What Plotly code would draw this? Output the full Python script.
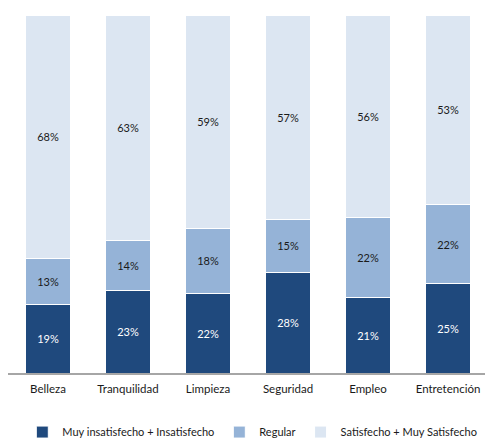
import plotly.graph_objects as go

categories = ["Belleza", "Tranquilidad", "Limpieza", "Seguridad", "Empleo", "Entretención"]
insatisfecho = [19, 23, 22, 28, 21, 25]
regular = [13, 14, 18, 15, 22, 22]
satisfecho = [68, 63, 59, 57, 56, 53]

series = [
    ("Muy insatisfecho + Insatisfecho", insatisfecho, "#1F497D", "white"),
    ("Regular", regular, "#95B3D7", "#1a1a1a"),
    ("Satisfecho + Muy Satisfecho", satisfecho, "#DCE6F2", "#1a1a1a"),
]

fig = go.Figure()
for name, vals, color, tcolor in series:
    fig.add_trace(go.Bar(
        name=name, x=categories, y=vals,
        text=[f"{v}%" for v in vals],
        textposition="inside", insidetextanchor="middle", textangle=0,
        textfont=dict(color=tcolor, size=11, family="Lato"),
        marker=dict(color=color, line=dict(color="white", width=1)),
    ))

fig.update_layout(
    width=485, height=447,
    barmode="stack", barnorm="percent", bargap=0.43,
    margin=dict(l=8, r=0, t=15, b=67),
    plot_bgcolor="white", paper_bgcolor="white",
    font=dict(family="Lato", size=11.5, color="#1a1a1a"),
    showlegend=True,
    legend=dict(orientation="h", x=0.03, xanchor="left", y=-0.165, yanchor="middle",
                font=dict(size=11), traceorder="normal", itemwidth=30),
    xaxis=dict(range=[-0.5, 5.4625], showline=True, linecolor="#A6A6A6", linewidth=1.5,
               ticks="", tickfont=dict(size=11.5), ticklabelstandoff=4, automargin=False),
    yaxis=dict(range=[0, 100], visible=False),
)

fig.write_html(
    "out.html",
    config={"displayModeBar": False},
    post_script="document.body.style.margin='0';document.body.style.overflow='hidden';"
                "document.documentElement.style.overflow='hidden';",
)
